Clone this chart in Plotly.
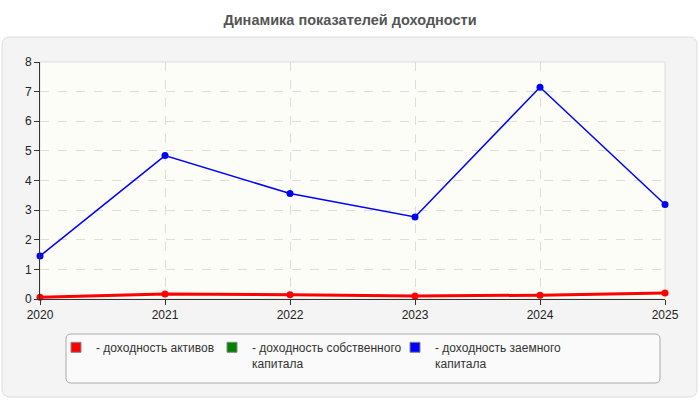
import plotly.graph_objects as go

years = [2020, 2021, 2022, 2023, 2024, 2025]
roa = [0.06, 0.17, 0.14, 0.10, 0.13, 0.20]
roe = [None, None, None, None, None, None]
rod = [1.45, 4.84, 3.56, 2.77, 7.15, 3.19]

names = ["- доходность активов", "- доходность собственного<br>капитала", "- доходность заемного<br>капитала"]
colors = ["#ff0000", "#008000", "#0000ff"]

W, H = 700, 400
ML, MR, MT, MB = 40, 35, 62, 101
PW, PH = W - ML - MR, H - MT - MB

def px(x):
    return (x - ML) / PW

def py(y):
    return (H - MB - y) / PH

def rounded(x0, y0, x1, y1, r):
    # pixel coordinates -> paper path with rounded corners
    rx, ry = r / PW, r / PH
    a, b, c, d = px(x0), py(y0), px(x1), py(y1)
    return (f"M{a+rx},{b} L{c-rx},{b} Q{c},{b} {c},{b-ry} L{c},{d+ry} Q{c},{d} {c-rx},{d} "
            f"L{a+rx},{d} Q{a},{d} {a},{d+ry} L{a},{b-ry} Q{a},{b} {a+rx},{b} Z")

fig = go.Figure()

fig.add_trace(go.Scatter(x=years, y=roa, mode="lines+markers", line=dict(color=colors[0], width=3),
                         marker=dict(size=7, color=colors[0]), showlegend=False, cliponaxis=False))
fig.add_trace(go.Scatter(x=years, y=roe, mode="lines+markers", line=dict(color=colors[1], width=2),
                         marker=dict(size=7, color=colors[1]), showlegend=False, cliponaxis=False))
fig.add_trace(go.Scatter(x=years, y=rod, mode="lines+markers", line=dict(color=colors[2], width=1.5),
                         marker=dict(size=7, color=colors[2]), showlegend=False, cliponaxis=False))

widths = [111, 138, 150]
for n, c, w in zip(names, colors, widths):
    fig.add_trace(go.Scatter(x=[None], y=[None], mode="markers", name=n, legendwidth=w,
                             marker=dict(symbol="square", size=10, color=c, line=dict(color="#888", width=1))))

shapes = [
    dict(type="path", xref="paper", yref="paper", path=rounded(2, 37, 697, 397, 8),
         fillcolor="#f4f4f4", line=dict(color="#dddddd", width=1), layer="below"),
    dict(type="rect", xref="paper", yref="paper", x0=0, y0=0, x1=1, y1=1,
         fillcolor="#fdfdf8", line=dict(color="#dddddd", width=1), layer="below"),
    dict(type="path", xref="paper", yref="paper", path=rounded(66, 334, 660, 383, 5),
         fillcolor="#fafafa", line=dict(color="#aaaaaa", width=1), layer="below"),
]

fig.update_layout(
    width=W, height=H,
    margin=dict(l=ML, r=MR, t=MT, b=MB, autoexpand=False),
    paper_bgcolor="white",
    plot_bgcolor="rgba(0,0,0,0)",
    font=dict(family="Arial, Liberation Sans, sans-serif", size=12, color="#333333"),
    title=dict(text="<b>Динамика показателей доходности</b>", x=0.5, xanchor="center",
               y=1 - 20 / H, yanchor="middle", yref="container",
               font=dict(size=14.5, color="#555555")),
    shapes=shapes,
    xaxis=dict(range=[2020, 2025], tickvals=years, ticktext=[str(y) for y in years],
               showgrid=True, gridcolor="#dddddd", griddash="dash", gridwidth=1,
               showline=True, linecolor="#333333", linewidth=1, ticks="outside", ticklen=5,
               tickcolor="#333333", zeroline=False, tickfont=dict(size=12, color="#222222")),
    yaxis=dict(range=[0, 8], dtick=1, showgrid=True, gridcolor="#dddddd", griddash="dash", gridwidth=1,
               showline=True, linecolor="#333333", linewidth=1, ticks="outside", ticklen=5,
               tickcolor="#333333", zeroline=False, tickfont=dict(size=12, color="#222222")),
    legend=dict(orientation="h", x=px(56), y=py(333), xanchor="left", yanchor="top",
                bgcolor="rgba(0,0,0,0)", borderwidth=0, valign="top", itemwidth=30,
                font=dict(size=12, color="#333333"), itemclick=False),
)

fig.write_html("out.html")
